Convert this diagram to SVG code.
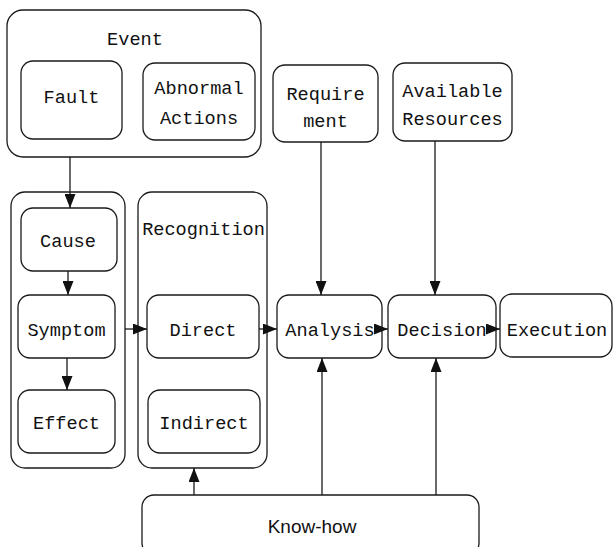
<svg xmlns="http://www.w3.org/2000/svg" width="613" height="547" viewBox="0 0 613 547">
<style>
.box{fill:none;stroke:#1a1a1a;stroke-width:1.3}
.t{font-family:"Liberation Mono","DejaVu Sans Mono",monospace;font-size:18.6px;fill:#111;text-anchor:middle}
.s{font-family:"Liberation Sans",Arial,sans-serif;font-size:19px;fill:#111;text-anchor:middle}
.ln{fill:none;stroke:#1a1a1a;stroke-width:1.3}
</style>
<defs>
<marker id="ah" viewBox="0 0 14 11" refX="14" refY="5.5" markerWidth="14" markerHeight="11" markerUnits="userSpaceOnUse" orient="auto">
<path d="M0,0 L14,5.5 L0,11 Z" fill="#111"/>
</marker>
</defs>
<g id="event">
<rect class="box" x="7" y="10" width="254" height="147" rx="16"/>
<text class="t" x="135" y="45">Event</text>
</g>
<g id="fault">
<rect class="box" x="21" y="61" width="101" height="78" rx="12"/>
<text class="t" x="71.5" y="103">Fault</text>
</g>
<g id="abnormal">
<rect class="box" x="143" y="63" width="112" height="77" rx="12"/>
<text class="t" x="199" y="94">Abnormal</text>
<text class="t" x="199" y="124">Actions</text>
</g>
<g id="requirement">
<rect class="box" x="273" y="65" width="105" height="77" rx="12"/>
<text class="t" x="325.5" y="100">Require</text>
<text class="t" x="325.5" y="127">ment</text>
</g>
<g id="resources">
<rect class="box" x="393" y="63" width="119" height="78" rx="12"/>
<text class="t" x="452.5" y="97">Available</text>
<text class="t" x="452.5" y="125">Resources</text>
</g>
<g id="ce-group">
<rect class="box" x="11" y="192" width="114" height="276" rx="14"/>
</g>
<g id="cause">
<rect class="box" x="21" y="208" width="96" height="63" rx="12"/>
<text class="t" x="68" y="247">Cause</text>
</g>
<g id="symptom">
<rect class="box" x="18" y="295" width="97" height="63" rx="12"/>
<text class="t" x="66.5" y="336">Symptom</text>
</g>
<g id="effect">
<rect class="box" x="18" y="390" width="97" height="63" rx="12"/>
<text class="t" x="66.5" y="429">Effect</text>
</g>
<g id="recognition">
<rect class="box" x="138" y="192" width="129" height="276" rx="14"/>
<text class="t" x="203.5" y="235">Recognition</text>
</g>
<g id="direct">
<rect class="box" x="147" y="295" width="112" height="63" rx="12"/>
<text class="t" x="203" y="336">Direct</text>
</g>
<g id="indirect">
<rect class="box" x="148" y="390" width="112" height="63" rx="12"/>
<text class="t" x="204" y="429">Indirect</text>
</g>
<g id="analysis">
<rect class="box" x="277" y="295" width="105" height="63" rx="12"/>
<text class="t" x="330" y="336">Analysis</text>
</g>
<g id="decision">
<rect class="box" x="388" y="295" width="108" height="63" rx="12"/>
<text class="t" x="442" y="336">Decision</text>
</g>
<g id="execution">
<rect class="box" x="500" y="294" width="112" height="63" rx="12"/>
<text class="t" x="557" y="336">Execution</text>
</g>
<g id="knowhow">
<rect class="box" x="142" y="495" width="337" height="60" rx="12"/>
<text class="s" x="312" y="533">Know-how</text>
</g>
<g id="connectors">
<line class="ln" x1="70" y1="157" x2="70" y2="208" marker-end="url(#ah)"/>
<line class="ln" x1="68" y1="271" x2="68" y2="295" marker-end="url(#ah)"/>
<line class="ln" x1="67" y1="358" x2="67" y2="390" marker-end="url(#ah)"/>
<line class="ln" x1="125" y1="329" x2="147" y2="329" marker-end="url(#ah)"/>
<line class="ln" x1="259" y1="329" x2="277" y2="329" marker-end="url(#ah)"/>
<line class="ln" x1="382" y1="329" x2="388" y2="329" marker-end="url(#ah)"/>
<line class="ln" x1="496" y1="329" x2="500" y2="329" marker-end="url(#ah)"/>
<line class="ln" x1="321" y1="142" x2="321" y2="295" marker-end="url(#ah)"/>
<line class="ln" x1="435" y1="141" x2="435" y2="295" marker-end="url(#ah)"/>
<line class="ln" x1="322" y1="495" x2="322" y2="358" marker-end="url(#ah)"/>
<line class="ln" x1="436" y1="495" x2="436" y2="358" marker-end="url(#ah)"/>
<line class="ln" x1="194" y1="495" x2="194" y2="468" marker-end="url(#ah)"/>
</g>
</svg>
